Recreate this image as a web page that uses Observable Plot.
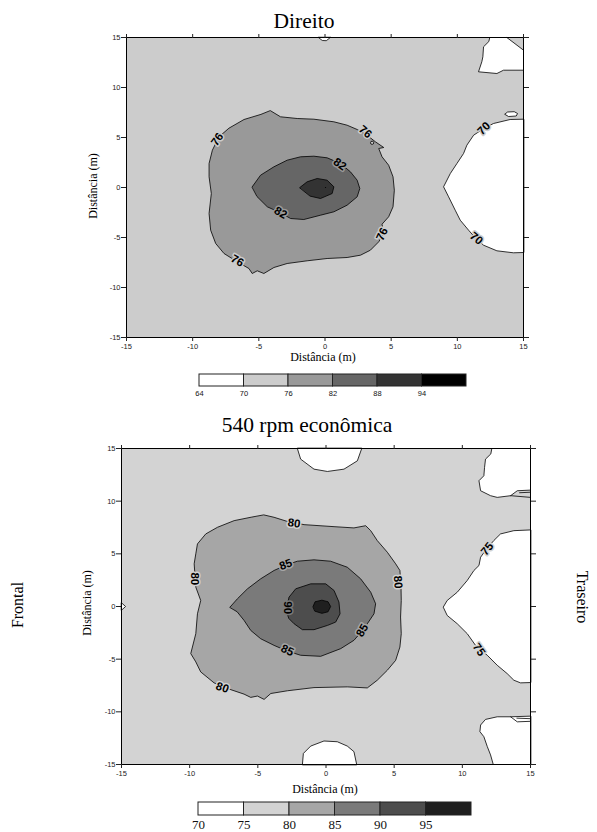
<!DOCTYPE html>
<html>
<head>
<meta charset="utf-8">
<script src="https://cdn.jsdelivr.net/npm/d3@7"></script>
<script src="https://cdn.jsdelivr.net/npm/@observablehq/plot@0.6"></script>
<style>
  html, body { margin: 0; padding: 0; background: #fff; }
  #root { position: relative; width: 597px; height: 832px; overflow: hidden; background: #fff; }
  #root > div, #root > svg { position: absolute; left: 0; }
  #overlay { top: 0; pointer-events: none; }
</style>
</head>
<body>
<div id="root">
  <div id="p1" style="top:0"></div>
  <div id="cb1" style="top:366px"></div>
  <div id="p2" style="top:400px"></div>
  <div id="cb2" style="top:794px"></div>
  <svg id="overlay" width="597" height="832"></svg>
</div>
<script>
// ---------- shared ticks ----------
const xTicks = [-15, -10, -5, 0, 5, 10, 15];
const yTicks = [-15, -10, -5, 0, 5, 10, 15];

// ---------- Panel 1: "Direito" (levels 64..94) ----------
const p1Levels = [64, 70, 76, 82, 88, 94, 100];
const p1LevelLabels = [64, 70, 76, 82, 88, 94];
const p1Greys = ["#ffffff", "#cccccc", "#999999", "#666666", "#333333", "#000000"];

const p1Iso76 = [[-4.11,7.67],[-3.36,7.07],[-2.10,6.90],[-0.84,6.83],[0.67,6.57],[1.67,6.23],[2.43,5.80],[3.18,5.23],[3.81,4.57],[4.44,4.0],[4.06,3.9],[4.31,3.07],[4.81,2.23],[5.14,1.07],[5.24,-0.27],[5.14,-1.93],[4.81,-2.93],[4.31,-3.67],[4.44,-4.6],[4.06,-5.43],[3.43,-6.27],[2.68,-6.77],[1.67,-7.0],[0.16,-7.1],[-1.35,-7.33],[-2.86,-7.6],[-3.86,-8.0],[-4.62,-8.6],[-5.12,-8.33],[-5.5,-8.6],[-5.75,-8.1],[-6.63,-7.43],[-7.63,-6.6],[-8.26,-5.6],[-8.64,-4.27],[-8.76,-2.6],[-8.59,-0.6],[-8.76,1.07],[-8.76,2.4],[-8.51,3.73],[-8.01,5.07],[-7.26,5.93],[-6.12,6.8],[-4.87,7.3]];
const p1Iso82 = [[-5.5,0.07],[-4.87,1.23],[-3.86,2.07],[-2.86,2.73],[-1.85,3.07],[-0.84,3.13],[0.16,2.97],[1.17,2.4],[1.92,1.57],[2.43,0.73],[2.63,-0.1],[2.43,-0.93],[1.67,-1.77],[0.67,-2.43],[-0.34,-2.77],[-1.6,-3.2],[-2.6,-3.1],[-3.36,-2.53],[-4.36,-1.93],[-5.12,-0.93]];
const p1Iso88 = [[-1.9,0.0],[-1.35,0.57],[-0.59,0.9],[0.16,0.73],[0.67,0.07],[0.54,-0.6],[-0.34,-1.1],[-1.1,-0.87]];
const p1Peak94 = [[0.04, 0.0]];
const p1Loop76 = [[3.56, 4.47]];
const p1Low70Right = [[15,6.83],[13.99,6.8],[12.73,6.4],[12.0,5.9],[11.23,5.23],[10.72,4.23],[10.47,3.4],[9.97,2.4],[9.47,1.4],[8.96,0.07],[9.34,-0.93],[9.84,-2.27],[10.22,-3.27],[10.85,-4.27],[11.4,-5.1],[11.98,-5.77],[12.99,-6.33],[14.24,-6.53],[15,-6.5]];
const p1Low70TopRight = [[12.48,15],[13.74,15],[15,13.73],[15,11.73],[13.49,11.73],[12.99,11.4],[11.6,11.57],[11.85,12.57],[11.93,13.07],[11.98,14.07],[12.36,14.57]];
const p1Low70Islet = [[13.6,7.35],[13.8,7.55],[14.3,7.58],[14.55,7.4],[14.45,7.15],[13.9,7.1]];
const p1Low70TopNotch = [[-0.5,15],[-0.2,14.7],[0.1,14.68],[0.4,15]];

const p1Labels70 = [{t:"70", x:12.0, y:5.9, a:-45}, {t:"70", x:11.43, y:-5.1, a:40}];
const p1Labels76 = [{t:"76", x:-8.14, y:4.8, a:-55}, {t:"76", x:3.05, y:5.57, a:40}, {t:"76", x:4.31, y:-4.67, a:-65}, {t:"76", x:-6.63, y:-7.33, a:30}];
const p1Labels82 = [{t:"82", x:1.12, y:2.33, a:35}, {t:"82", x:-3.36, y:-2.53, a:30}];

// ---------- Panel 2: "540 rpm econômica" (levels 70..95) ----------
const p2Levels = [70, 75, 80, 85, 90, 95, 100];
const p2LevelLabels = [70, 75, 80, 85, 90, 95];
const p2Greys = ["#ffffff", "#d3d3d3", "#a6a6a6", "#7a7a7a", "#4d4d4d", "#1f1f1f"];

const p2Iso80 = [[-4.54,8.69],[-3.81,8.47],[-2.9,8.1],[-1.61,7.77],[0.59,7.58],[2.05,7.46],[2.91,7.67],[3.28,7.2],[3.76,6.26],[4.5,5.15],[5.11,4.05],[5.42,3.42],[5.5,2.0],[5.52,0.57],[5.47,-1.0],[5.52,-2.58],[5.42,-3.85],[5.11,-5.11],[4.5,-6.05],[3.76,-7.0],[3.03,-7.73],[1.56,-7.63],[-0.88,-7.7],[-2.83,-8.0],[-4.05,-8.26],[-4.54,-8.82],[-5.03,-8.5],[-5.52,-8.63],[-6.01,-8.32],[-7.2,-7.8],[-8.21,-7.25],[-9.19,-6.21],[-9.55,-5.26],[-9.92,-4.47],[-9.55,-2.58],[-9.43,-0.69],[-9.19,0.57],[-9.55,1.84],[-9.67,4.05],[-9.55,5.0],[-9.43,5.94],[-8.82,6.89],[-7.96,7.52],[-6.74,8.15],[-5.52,8.47]];
const p2Iso85 = [[-7.04,-0.06],[-6.5,0.73],[-5.76,1.68],[-4.79,2.63],[-3.81,3.42],[-2.9,3.95],[-2.1,4.3],[-0.88,4.43],[0.34,4.3],[1.56,3.73],[2.54,2.63],[3.28,1.36],[3.64,0.26],[3.52,-0.69],[3.03,-1.64],[2.6,-2.4],[2.05,-3.21],[1.08,-4.0],[-0.39,-4.73],[-1.86,-4.63],[-2.9,-4.2],[-3.81,-3.69],[-4.79,-3.06],[-5.52,-2.27],[-6.01,-1.32],[-6.5,-0.53]];
const p2Iso90 = [[-2.83,-0.69],[-2.85,0.1],[-2.71,0.89],[-2.22,1.68],[-1.12,2.15],[-0.02,2.15],[0.59,1.52],[0.95,0.42],[1.03,-0.69],[0.71,-1.48],[0.12,-1.79],[-0.88,-2.2],[-1.73,-2.2],[-2.34,-1.64],[-2.71,-1.16]];
const p2Iso95 = [[-0.95,0.0],[-0.8,0.45],[-0.3,0.6],[0.15,0.45],[0.34,0.0],[0.15,-0.5],[-0.3,-0.65],[-0.8,-0.45]];
const p2Low75Right = [[15,7.27],[13.78,7.2],[12.8,6.89],[12.31,6.26],[11.8,5.5],[11.34,4.68],[11.22,3.89],[10.85,3.42],[10.36,2.47],[9.63,1.36],[8.89,0.57],[8.6,-0.06],[8.89,-0.85],[9.63,-1.64],[10.36,-2.58],[10.97,-3.69],[11.83,-4.63],[12.56,-5.58],[13.29,-6.37],[13.78,-7.0],[14.27,-7.25],[15,-7.22]];
const p2Low75Top = [[-2.1,15],[-1.86,13.99],[-0.88,13.04],[0.1,12.82],[1.32,13.04],[2.3,13.83],[2.62,15]];
const p2Low75Bottom = [[-1.73,-15],[-1.66,-13.95],[-1.12,-13.25],[-0.15,-12.77],[0.83,-12.84],[1.56,-13.25],[2.05,-13.78],[2.25,-15]];
const p2Low75TopRight = [[12.19,15],[15,15],[15,11.05],[14.03,10.99],[13.54,10.52],[12.56,10.36],[12.07,10.52],[11.34,10.99],[11.22,11.94],[11.58,12.41],[11.63,13.2],[11.7,13.99],[12.07,14.46]];
const p2Low75BottomRight = [[15,-10.41],[13.54,-10.47],[12.56,-10.47],[11.7,-10.72],[11.34,-11.25],[11.29,-11.88],[11.58,-12.36],[11.83,-13.3],[12.07,-14.09],[12.27,-15],[15,-15]];
const p2Low75LeftNotch = [[-15,0.35],[-14.7,0],[-15,-0.35]];
const p2Seams = [
  [[13.54,10.52],[15,10.36]],
  [[14.2,10.8],[15,10.85]],
  [[13.54,-10.47],[14.03,-10.95],[15,-10.9]],
  [[14.0,-10.6],[15,-10.65]]
];

const p2Labels75 = [{t:"75", x:11.83, y:5.47, a:-50}, {t:"75", x:11.22, y:-4.1, a:55}];
const p2Labels80 = [{t:"80", x:-2.34, y:7.9, a:8}, {t:"80", x:-9.62, y:2.63, a:90}, {t:"80", x:5.28, y:2.31, a:85}, {t:"80", x:-7.6, y:-7.7, a:20}];
const p2Labels85 = [{t:"85", x:-2.96, y:3.98, a:-20}, {t:"85", x:2.66, y:-2.27, a:-60}, {t:"85", x:-2.83, y:-4.16, a:25}];
const p2Labels90 = [{t:"90", x:-2.83, y:-0.12, a:90}];

// ---------- helpers ----------
const SANS = "'Liberation Sans', Arial, sans-serif";
const SERIF = "'Liberation Serif', 'Times New Roman', serif";
const poly = (data, fill) => Plot.line(data, {x: d => d[0], y: d => d[1], fill, stroke: "#000", strokeWidth: 0.8, curve: "linear-closed"});
const seam = (data) => Plot.line(data, {x: d => d[0], y: d => d[1], stroke: "#000", strokeWidth: 0.8});
const labels = (data, halo) => Plot.text(data, {x: "x", y: "y", text: "t", rotate: "a", fontSize: 11.5, fontWeight: "bold", fontFamily: SANS, fill: "#000", stroke: halo, strokeWidth: 3});
const fmt = d => String(d);
const axes = (pad) => [
  Plot.axisX(xTicks, {anchor: "bottom", tickSize: 4, tickPadding: pad, label: null, tickFormat: fmt}),
  Plot.axisX(xTicks, {anchor: "top", tickSize: 4, label: null, tickFormat: () => ""}),
  Plot.axisY(yTicks, {anchor: "left", tickSize: 5, tickPadding: 1, label: null, tickFormat: fmt}),
  Plot.axisY(yTicks, {anchor: "right", tickSize: 5, label: null, tickFormat: () => ""})
];
const axisStyle = {fontFamily: SANS, fontSize: "7.5px", color: "#222", background: "transparent", overflow: "visible"};

// ---------- Panel 1 ----------
const plot1 = Plot.plot({
  width: 597, height: 362,
  marginLeft: 126, marginRight: 74, marginTop: 37, marginBottom: 25,
  x: {domain: [-15, 15]}, y: {domain: [-15, 15]},
  style: axisStyle,
  marks: [
    Plot.frame({fill: p1Greys[1], stroke: "none"}),
    poly(p1Low70Right, p1Greys[0]),
    poly(p1Low70TopRight, p1Greys[0]),
    poly(p1Low70Islet, p1Greys[0]),
    poly(p1Low70TopNotch, p1Greys[0]),
    poly(p1Iso76, p1Greys[2]),
    Plot.dot(p1Loop76, {x: d => d[0], y: d => d[1], r: 1.6, fill: p1Greys[1], stroke: "#000", strokeWidth: 0.8}),
    poly(p1Iso82, p1Greys[3]),
    poly(p1Iso88, p1Greys[4]),
    Plot.dot(p1Peak94, {x: d => d[0], y: d => d[1], r: 0.6, fill: p1Greys[5]}),
    labels(p1Labels70, p1Greys[1]),
    labels(p1Labels76, p1Greys[1]),
    labels(p1Labels82, p1Greys[2]),
    Plot.frame({stroke: "#000", strokeWidth: 1}),
    ...axes(2)
  ]
});
document.getElementById("p1").appendChild(plot1);

// ---------- Panel 2 ----------
const plot2 = Plot.plot({
  width: 597, height: 390,
  marginLeft: 121, marginRight: 67, marginTop: 48, marginBottom: 26,
  x: {domain: [-15, 15]}, y: {domain: [-15, 15]},
  style: axisStyle,
  marks: [
    Plot.frame({fill: p2Greys[1], stroke: "none"}),
    poly(p2Low75Right, p2Greys[0]),
    poly(p2Low75Top, p2Greys[0]),
    poly(p2Low75Bottom, p2Greys[0]),
    poly(p2Low75TopRight, p2Greys[0]),
    poly(p2Low75BottomRight, p2Greys[0]),
    poly(p2Low75LeftNotch, p2Greys[0]),
    ...p2Seams.map(seam),
    poly(p2Iso80, p2Greys[2]),
    poly(p2Iso85, p2Greys[3]),
    poly(p2Iso90, p2Greys[4]),
    poly(p2Iso95, p2Greys[5]),
    labels(p2Labels75, p2Greys[1]),
    labels(p2Labels80, p2Greys[1]),
    labels(p2Labels85, p2Greys[2]),
    labels(p2Labels90, p2Greys[3]),
    Plot.frame({stroke: "#000", strokeWidth: 1}),
    ...axes(2)
  ]
});
document.getElementById("p2").appendChild(plot2);

// ---------- colour bars ----------
function colorBar(levels, greys, tickLabels, opts) {
  const bins = greys.map((g, i) => ({lo: levels[i], hi: levels[i + 1], g}));
  return Plot.plot({
    width: 597, height: opts.height,
    marginLeft: opts.left, marginRight: 597 - opts.right, marginTop: opts.top, marginBottom: opts.bottom,
    x: {domain: [levels[0], levels[levels.length - 1]], axis: null},
    y: {domain: [0, 1], axis: null},
    color: {type: "identity"},
    style: {background: "transparent", overflow: "visible"},
    marks: [
      Plot.rect(bins, {x1: "lo", x2: "hi", y1: () => 0, y2: () => 1, fill: "g", stroke: "#222", strokeWidth: 1}),
      Plot.text(tickLabels, {x: d => d, y: () => 0, text: d => String(d), lineAnchor: "top", dy: opts.dy, fontSize: opts.fontSize, fontFamily: opts.font, fill: "#111"})
    ]
  });
}
document.getElementById("cb1").appendChild(colorBar(p1Levels, p1Greys, p1LevelLabels,
  {height: 36, left: 199, right: 466, top: 8, bottom: 16, dy: 4, fontSize: 7.5, font: SANS}));
document.getElementById("cb2").appendChild(colorBar(p2Levels, p2Greys, p2LevelLabels,
  {height: 38, left: 198, right: 471, top: 8, bottom: 17, dy: 4, fontSize: 13, font: SERIF}));

// ---------- titles and axis names ----------
const ov = d3.select("#overlay");
const addText = (txt, x, y, size, rot) => {
  ov.append("text").attr("transform", `translate(${x},${y}) rotate(${rot || 0})`)
    .attr("text-anchor", "middle").style("font-family", SERIF).style("font-size", size + "px")
    .attr("fill", "#000").text(txt);
};
addText("Direito", 304, 28, 21.5);
addText("Distância (m)", 323, 361, 12);
addText("Distância (m)", 97, 186, 12, -90);
addText("540 rpm econômica", 307, 432, 21.5);
addText("Distância (m)", 325, 793, 12);
addText("Distância (m)", 91, 603, 12, -90);
addText("Frontal", 23, 605, 16, -90);
addText("Traseiro", 577, 597, 16, 90);
</script>
</body>
</html>
